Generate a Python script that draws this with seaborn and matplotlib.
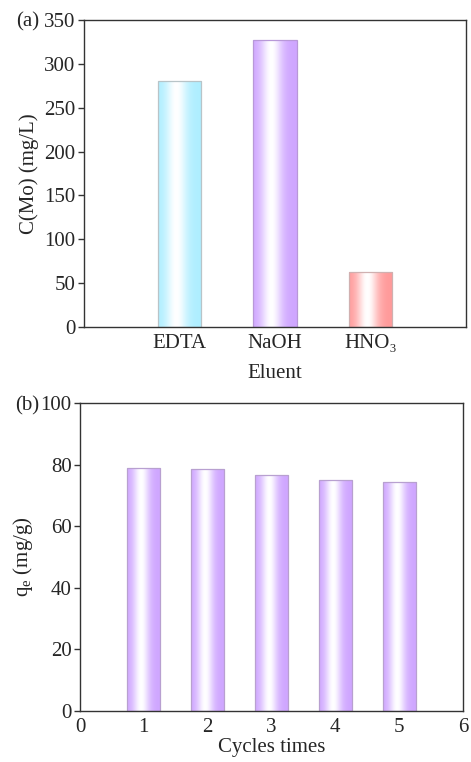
import numpy as np
import pandas as pd
import matplotlib
matplotlib.use("Agg")
import matplotlib.pyplot as plt
import seaborn as sns
from matplotlib.colors import to_rgb

eluents = ["EDTA", "NaOH", "HNO\u2083"]
conc = [280, 327, 63]
eluent_colors = ["#aeeeff", "#cfa6ff", "#ff9a9a"]

cycles = [1, 2, 3, 4, 5]
qe = [78.9, 78.5, 76.5, 75.1, 74.4]
cycle_color = "#cfa6ff"

sns.set_theme(style="ticks")
plt.rcParams['font.family'] = ['Liberation Serif', 'DejaVu Serif']
plt.rcParams['mathtext.fontset'] = 'custom'
plt.rcParams['mathtext.rm'] = 'Liberation Serif'
FS = 15

fig = plt.figure(figsize=(4.71, 7.62), dpi=100)
ax1 = fig.add_axes([84/471, 1-327/762, (466-84)/471, (327-20)/762])
ax2 = fig.add_axes([80/471, 1-711/762, (463-80)/471, (711-403)/762])


def gradient_fill(ax, colors, edge_colors):
    prof_t = np.linspace(0, 1, 256)
    w = np.exp(-((prof_t - 0.42) / 0.24) ** 2)
    for patch, c, ec in zip(ax.patches, colors, edge_colors):
        rgb = np.array(to_rgb(c))
        img = rgb[None, :] * (1 - w[:, None]) + w[:, None] * 1.0
        img = img[None, :, :]
        x0, y0 = patch.get_x(), patch.get_y()
        wd, ht = patch.get_width(), patch.get_height()
        patch.set_facecolor("none")
        patch.set_edgecolor(ec)
        patch.set_linewidth(0.9)
        im = ax.imshow(img, extent=[x0, x0 + wd, y0, y0 + ht], aspect="auto",
                       zorder=patch.get_zorder() - 0.1, interpolation="bilinear")
        im.set_clip_path(patch)


df1 = pd.DataFrame({"eluent": eluents, "conc": conc})
sns.barplot(data=df1, x="eluent", y="conc", ax=ax1, width=0.46, color="white")
gradient_fill(ax1, eluent_colors, ["#b8c4c8", "#b898d8", "#d0b0b0"])
ax1.set_xlim(-1, 3)
ax1.set_ylim(0, 350)
ax1.set_yticks(range(0, 351, 50))
ax1.set_xlabel("Eluent", fontsize=FS, labelpad=8)
ax1.set_ylabel("C(Mo) (mg/L)", fontsize=FS, labelpad=4)

df2 = pd.DataFrame({"cycle": cycles, "qe": qe})
sns.barplot(data=df2, x="cycle", y="qe", ax=ax2, width=0.52, color="white",
            native_scale=True)
gradient_fill(ax2, [cycle_color] * len(cycles), ["#b8a0d0"] * len(cycles))
ax2.set_xlim(0, 6)
ax2.set_ylim(0, 100)
ax2.set_xticks(range(0, 7))
ax2.set_yticks(range(0, 101, 20))
ax2.set_xlabel("Cycles times", fontsize=FS, labelpad=1)
ax2.set_ylabel("q$_\\mathrm{e}$ (mg/g)", fontsize=FS, labelpad=4)

for ax in (ax1, ax2):
    for s in ax.spines.values():
        s.set_visible(True)
        s.set_color("#333333")
        s.set_linewidth(1.0)
    ax.tick_params(axis="y", direction="out", length=4, width=1, color="#333333",
                   labelsize=FS, pad=2)
    ax.tick_params(axis="x", length=0, labelsize=FS, pad=5)

fig.text(16/471, 1-22/762, "(a)", fontsize=FS, va="center", ha="left")
fig.text(15/471, 1-406/762, "(b)", fontsize=FS, va="center", ha="left")

fig.savefig("out.png", dpi=100)
